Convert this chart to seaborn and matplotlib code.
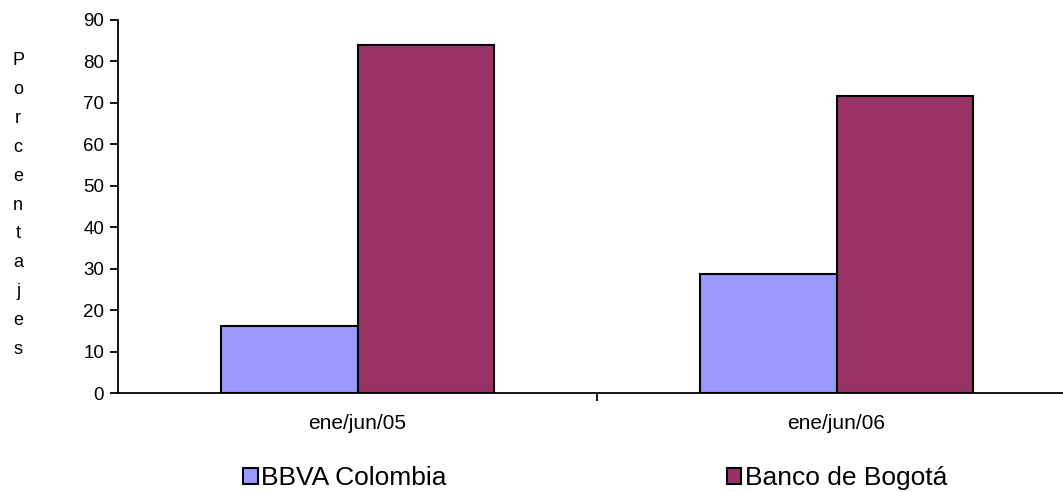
import matplotlib
matplotlib.use("Agg")
import matplotlib.pyplot as plt
import seaborn as sns
import pandas as pd
from matplotlib.patches import Patch

periods = ["ene/jun/05", "ene/jun/06"]
banks = ["BBVA Colombia", "Banco de Bogotá"]
bbva_values = [16.1, 28.7]
bogota_values = [84.0, 71.6]
colors = ["#9999FF", "#993366"]
y_ticks = [0, 10, 20, 30, 40, 50, 60, 70, 80, 90]
y_label = "Porcentajes"

df = pd.DataFrame({
    "period": periods * 2,
    "bank": [banks[0]] * 2 + [banks[1]] * 2,
    "value": bbva_values + bogota_values,
})

sns.set_style("white")
plt.rcParams["font.family"] = ["Liberation Sans", "DejaVu Sans"]
plt.rcParams["text.color"] = "black"
plt.rcParams["xtick.color"] = "black"
plt.rcParams["ytick.color"] = "black"

fig = plt.figure(figsize=(10.63, 4.92), dpi=100)
ax = fig.add_axes([118 / 1063, (492 - 393) / 492, 958 / 1063, 373 / 492])

sns.barplot(data=df, x="period", y="value", hue="bank", order=periods,
            hue_order=banks, palette=colors, width=0.572, edgecolor="black",
            linewidth=1.5, saturation=1, ax=ax, legend=False)

ax.set_xlim(-0.5, 1.5)
ax.set_ylim(0, 90)
ax.set_yticks(y_ticks)
ax.set_xlabel("")
ax.set_ylabel("")
for s in ["top", "right"]:
    ax.spines[s].set_visible(False)
for s in ["left", "bottom"]:
    ax.spines[s].set_color("black")
    ax.spines[s].set_linewidth(1.3)

ax.tick_params(axis="y", which="major", direction="out", length=6, width=1.3,
               color="black", labelcolor="black", labelsize=13.5, pad=4, left=True)
ax.tick_params(axis="x", which="major", length=0, labelsize=15, labelcolor="black", pad=15)
ax.set_xticks([0.5], minor=True)
ax.tick_params(axis="x", which="minor", direction="out", length=6, width=1.3,
               color="black", bottom=True)

fig.text(18 / 1063, 1 - 205 / 492, "\n".join(y_label), ha="center", va="center",
         fontsize=13, linespacing=1.92, color="black")

handles = [Patch(facecolor=c, edgecolor="black", linewidth=1.5) for c in colors]
fig.legend(handles, banks, loc="center left", bbox_to_anchor=(243 / 1063, 1 - 478 / 492),
           ncol=2, frameon=False, fontsize=19, handlelength=0.55, handleheight=0.55,
           handletextpad=0.15, columnspacing=10.6, borderaxespad=0, borderpad=0,
           labelcolor="black")

fig.savefig("out.png", dpi=100)
